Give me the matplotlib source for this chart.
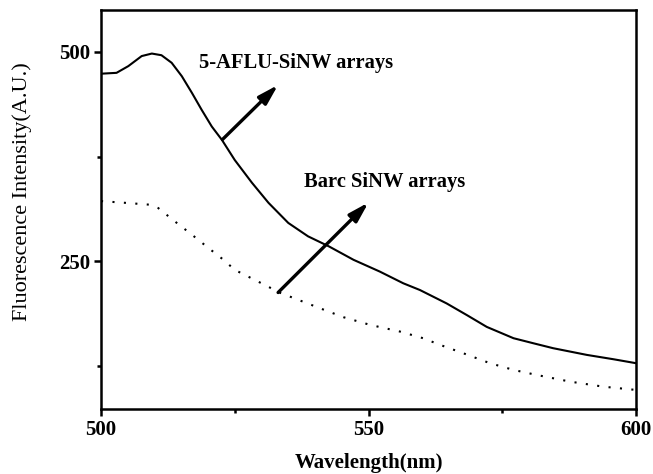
import numpy as np
import matplotlib
matplotlib.use("Agg")
import matplotlib.pyplot as plt
from matplotlib.ticker import MultipleLocator

wl_aflu = [500.1, 502.9, 505.1, 507.6, 509.5, 511.3, 513.2, 515.1, 517.0, 518.8,
           520.7, 522.6, 525.0, 528.2, 531.3, 535.0, 538.7, 542.6, 547.2, 552.1,
           556.5, 559.6, 564.6, 568.4, 572.1, 577.1, 580.8, 584.5, 590.8, 595.8, 600]
int_aflu = [474, 475, 483, 495, 498, 496, 487, 471, 451, 431,
            411, 395, 371, 344, 320, 296, 280, 268, 252, 238,
            224, 216, 200, 186, 172, 158.5, 152.5, 146.6, 138.6, 133.4, 128.7]

wl_bare = [500, 505.1, 509.2, 510.7, 513.8, 517.0, 520.1, 522.9, 525, 530, 533.5,
           540.9, 545.3, 550.3, 555.9, 560.2, 563.4, 567.7, 572.7, 577.1, 581.4,
           587.7, 593.9, 600]
int_bare = [322, 319.7, 317.7, 313.7, 297.8, 281.9, 266, 252, 240, 224, 212.6,
            194.3, 183.6, 174.4, 166.4, 158.5, 150.5, 140.6, 128.7, 120.7, 114.7,
            106.7, 100.7, 96.8]

lbl_aflu = "5-AFLU-SiNW arrays"
lbl_bare = "Barc SiNW arrays"

plt.rcParams['font.family'] = ['Liberation Serif', 'DejaVu Serif']

fig = plt.figure(figsize=(6.53, 4.74), dpi=100)
ax = fig.add_axes([0.1547, 0.137, 0.8193, 0.842])

ax.plot(wl_aflu, int_aflu, color="black", lw=1.5)
ax.plot(wl_bare, int_bare, color="black", lw=1.5, linestyle=(0, (1, 4.5)))

ax.set_xlim(500, 600)
ax.set_ylim(74, 550)
ax.xaxis.set_major_locator(MultipleLocator(50))
ax.xaxis.set_minor_locator(MultipleLocator(25))
ax.yaxis.set_major_locator(MultipleLocator(250))
ax.yaxis.set_minor_locator(MultipleLocator(125))
ax.tick_params(which="both", direction="out", width=1.8, labelsize=15, pad=3)
ax.tick_params(which="major", length=5)
ax.tick_params(which="minor", length=3)
for lab in ax.get_xticklabels() + ax.get_yticklabels():
    lab.set_fontweight("bold")
for sp in ax.spines.values():
    sp.set_linewidth(1.8)

ax.set_xlabel("Wavelength(nm)", fontsize=15, fontweight="bold", va="center")
ax.xaxis.set_label_coords(0.5, -0.135)
ax.set_ylabel("Fluorescence Intensity(A.U.)", fontsize=16, va="center")
ax.yaxis.set_label_coords(-0.148, 0.546)

arrow = dict(arrowstyle="-|>,head_length=1.2,head_width=0.35", color="black",
             lw=2.4, shrinkA=0, shrinkB=0)
ax.annotate("", xy=(533.1, 460.6), xytext=(522.7, 395.5), arrowprops=arrow)
ax.annotate("", xy=(550, 320.4), xytext=(533.1, 213), arrowprops=arrow)
ax.text(518.3, 487, lbl_aflu, fontsize=14.8, fontweight="bold", va="center")
ax.text(538, 345, lbl_bare, fontsize=14.8, fontweight="bold", va="center")

fig.savefig("out.png", dpi=100)
